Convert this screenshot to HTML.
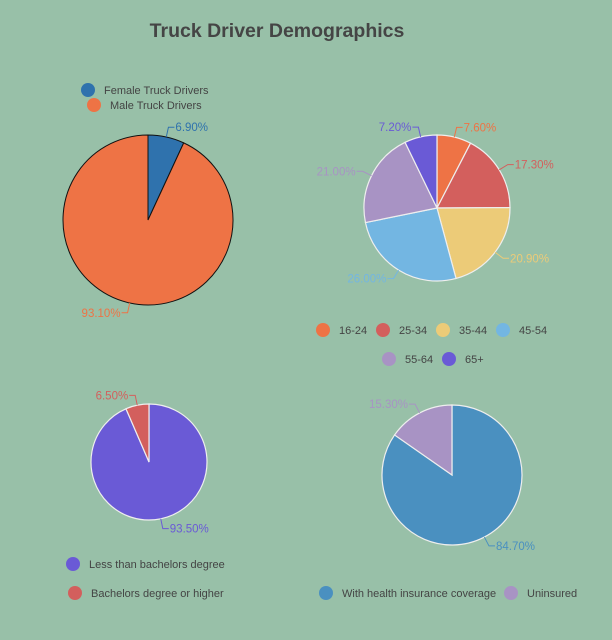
<!DOCTYPE html>
<html><head><meta charset="utf-8"><style>
html,body{margin:0;padding:0;background:#98c0a8;}
svg{display:block;font-family:"Liberation Sans",sans-serif;}
</style></head><body>
<svg id="c" width="612" height="640" viewBox="0 0 612 640">
<rect width="612" height="640" fill="#98c0a8"/>
<text x="277" y="37" text-anchor="middle" font-size="19.5" font-weight="bold" fill="#454545">Truck Driver Demographics</text>
</svg>
<script>
const genderLabels=["Female Truck Drivers","Male Truck Drivers"];
const genderValues=[6.9,93.1];
const genderColors=["#2f72ad","#ee7345"];
const ageLabels=["16-24","25-34","35-44","45-54","55-64","65+"];
const ageValues=[7.6,17.3,20.9,26.0,21.0,7.2];
const ageColors=["#ee7345","#d35f5d","#eccb78","#73b6e2","#a893c4","#6a5ad6"];
const eduLabels=["Less than bachelors degree","Bachelors degree or higher"];
const eduValues=[93.5,6.5];
const eduColors=["#6a5ad6","#d35f5d"];
const insLabels=["With health insurance coverage","Uninsured"];
const insValues=[84.7,15.3];
const insColors=["#4a90c0","#a893c4"];

const svg=document.getElementById('c');
const NS="http://www.w3.org/2000/svg";
function mk(t,a){const e=document.createElementNS(NS,t);for(const k in a)e.setAttribute(k,a[k]);svg.appendChild(e);return e;}
function pie(name,cx,cy,r,vals,cols,stroke,labels){
  const tot=vals.reduce((a,b)=>a+b,0);let a0=0;
  vals.forEach((v,i)=>{
    const a1=a0+v/tot*2*Math.PI;
    const x0=cx+r*Math.sin(a0),y0=cy-r*Math.cos(a0),x1=cx+r*Math.sin(a1),y1=cy-r*Math.cos(a1);
    const big=(a1-a0)>Math.PI?1:0;
    const p=mk('path',{d:`M${cx},${cy}L${x0},${y0}A${r},${r} 0 ${big} 1 ${x1},${y1}Z`,fill:cols[i],stroke:stroke,'stroke-width':stroke=='#111'?1:1.2});
    
    
    const am=(a0+a1)/2,sx=Math.sin(am),sy=-Math.cos(am);
    const ex=cx+(r+10)*sx,ey=cy+(r+10)*sy;
    const l=mk('polyline',{points:`${cx+r*sx},${cy+r*sy} ${ex},${ey} ${ex+(sx>=0?6:-6)},${ey}`,fill:'none',stroke:cols[i],'stroke-width':1});
    
    
    const t=mk('text',{x:ex+(sx>=0?7:-7),y:ey+4,'text-anchor':sx>=0?'start':'end','font-size':11.5,fill:cols[i]});
    t.textContent=v.toFixed(2)+'%';
    
    
    a0=a1;
  });
}
function legend(name,x,y,col,label){
  const c=mk('circle',{cx:x,cy:y,r:7,fill:col});
  
  
  const t=mk('text',{x:x+16,y:y+4,'font-size':11,fill:'#444'});
  t.textContent=label;
  
  
}
pie('gender',148,220,85,genderValues,genderColors,'#111',genderLabels);
legend('gender',88,90,genderColors[0],genderLabels[0]);
legend('gender',94,105,genderColors[1],genderLabels[1]);
pie('age',437,208,73,ageValues,ageColors,'#eee',ageLabels);
const ageX=[323,383,443,503,389,449];const ageY=[330,330,330,330,359,359];
ageLabels.forEach((l,i)=>legend('age',ageX[i],ageY[i],ageColors[i],l));
pie('education',149,462,58,eduValues,eduColors,'#eee',eduLabels);
legend('education',73,564,eduColors[0],eduLabels[0]);
legend('education',75,593,eduColors[1],eduLabels[1]);
pie('insurance',452,475,70,insValues,insColors,'#eee',insLabels);
legend('insurance',326,593,insColors[0],insLabels[0]);
legend('insurance',511,593,insColors[1],insLabels[1]);
</script>
</body></html>
